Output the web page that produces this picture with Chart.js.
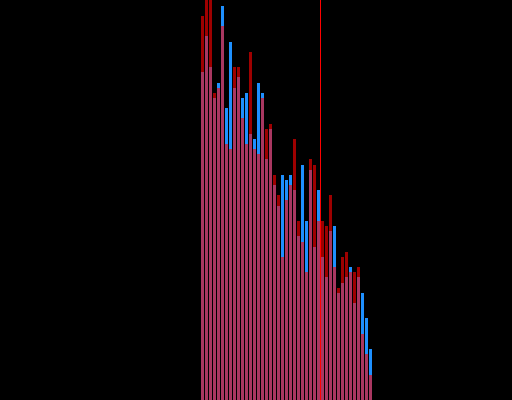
<!DOCTYPE html>
<html>

<head>
    <title>Overlapping bars</title>
    <meta charset="UTF-8">
    <script src="https://cdn.jsdelivr.net/npm/chart.js"></script>
    <style>
        html, body {
            margin: 0;
            padding: 0;
            background-color: #000000;
        }

        .chart-container {
            width: 512px;
            height: 400px;
        }
    </style>
</head>

<body>
    <div class="chart-container">
        <canvas id="barChart"></canvas>
    </div>

    <script>
        // 43 bins (y scale runs 0..400)
        var labels = [];
        for (var i = 0; i < 43; i++) labels.push(String(i + 1));

        var redValues = [384, 410, 410, 307, 312, 374, 256, 251, 333, 333,
            282, 256, 348, 251, 246, 302, 271, 276, 225, 205,
            143, 200, 215, 261, 179, 158, 128, 241, 235, 179,
            179, 174, 205, 133, 112, 143, 148, 128, 128, 133,
            66, 46, 25];

        var blueValues = [328, 364, 333, 302, 317, 394, 292, 358, 312, 323,
            302, 307, 266, 261, 317, 307, 241, 271, 215, 194,
            225, 220, 225, 210, 164, 235, 179, 230, 153, 210,
            143, 123, 169, 174, 107, 117, 123, 133, 97, 123,
            107, 82, 51];

        // marker sits between bin 30 and bin 31
        var markerAfterIndex = 29;

        var markerLine = {
            id: 'markerLine',
            afterDatasetsDraw: function (chart) {
                var x = chart.scales.x;
                var area = chart.chartArea;
                var mid = (x.getPixelForValue(markerAfterIndex) + x.getPixelForValue(markerAfterIndex + 1)) / 2;
                var ctx = chart.ctx;
                ctx.save();
                ctx.fillStyle = '#ff0000';
                ctx.fillRect(Math.floor(mid), area.top, 1, area.bottom - area.top);
                ctx.restore();
            }
        };

        var ctx = document.getElementById('barChart').getContext('2d');
        var barChart = new Chart(ctx, {
            type: 'bar',
            data: {
                labels: labels,
                datasets: [{
                    label: 'red',
                    data: redValues,
                    backgroundColor: 'rgba(255, 0, 0, 0.62)',
                    borderWidth: 0
                }, {
                    label: 'blue',
                    data: blueValues,
                    backgroundColor: '#1e90ff',
                    borderWidth: 0
                }]
            },
            options: {
                responsive: true,
                maintainAspectRatio: false,
                animation: false,
                categoryPercentage: 1,
                barPercentage: 0.75,
                layout: {
                    padding: { left: 200.5, right: 139.5, top: 0, bottom: 0 }
                },
                plugins: {
                    legend: { display: false },
                    tooltip: { enabled: false }
                },
                scales: {
                    x: {
                        display: false,
                        stacked: true
                    },
                    y: {
                        display: false,
                        stacked: false,
                        min: 0,
                        max: 400
                    }
                }
            },
            plugins: [markerLine]
        });
    </script>
</body>

</html>
